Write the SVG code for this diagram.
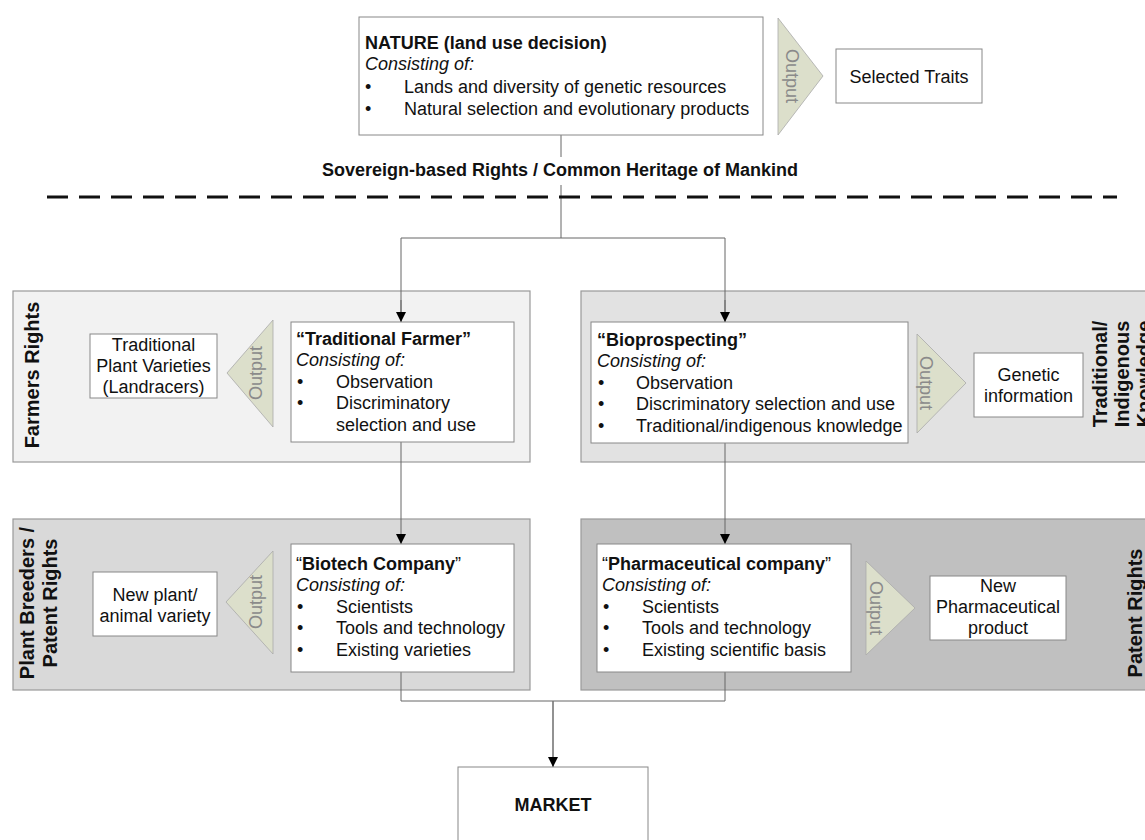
<svg xmlns="http://www.w3.org/2000/svg" width="1145" height="840" viewBox="0 0 1145 840">
<defs>
<style>
text{font-family:"Liberation Sans",Arial,sans-serif;fill:#111}
.t{font-size:18px}
.b{font-weight:bold}
.i{font-style:italic}
.c{text-anchor:middle}
.box{fill:#fff;stroke:#888;stroke-width:1}
.tri{fill:#dcdfcb;stroke:#aaa;stroke-width:0.8}
.out{font-size:18px;fill:#8a8a8a;text-anchor:middle}
.lab{font-size:20px;font-weight:bold;text-anchor:middle}
.con{fill:none;stroke:#666;stroke-width:1}
.panel{stroke:#999;stroke-width:1.2}
</style>
<marker id="ah" markerWidth="11" markerHeight="11" refX="10" refY="5" orient="auto" markerUnits="userSpaceOnUse">
<path d="M0,0 L10,5 L0,10 Z" fill="#000"/>
</marker>
</defs>
<rect width="1145" height="840" fill="#fff"/>

<g id="panels">
<rect id="panel-farmers" class="panel" x="13" y="291" width="517" height="171" fill="#f2f2f2"/>
<rect id="panel-tik" class="panel" x="581" y="291" width="580" height="171" fill="#e2e2e2"/>
<rect id="panel-pbr" class="panel" x="13" y="519" width="517" height="171" fill="#d9d9d9"/>
<rect id="panel-patent" class="panel" x="581" y="519" width="580" height="171" fill="#c0c0c0"/>
</g>

<g id="connectors">
<line class="con" x1="561" y1="135" x2="561" y2="157"/>
<line class="con" x1="561" y1="185" x2="561" y2="238"/>
<polyline class="con" points="401,322 401,238 725,238 725,322"/>
<line class="con" x1="401" y1="300" x2="401" y2="322" marker-end="url(#ah)"/>
<line class="con" x1="725" y1="300" x2="725" y2="322" marker-end="url(#ah)"/>
<line class="con" x1="401" y1="442" x2="401" y2="544" marker-end="url(#ah)"/>
<line class="con" x1="725" y1="443" x2="725" y2="544" marker-end="url(#ah)"/>
<polyline class="con" points="401,672 401,701 725,701 725,672"/>
<line x1="553" y1="701" x2="553" y2="767" stroke="#777" stroke-width="1.6" marker-end="url(#ah)"/>
<line x1="47" y1="197" x2="1117" y2="197" stroke="#111" stroke-width="3" stroke-dasharray="21,11"/>
</g>

<g id="nature">
<rect class="box" x="359" y="17" width="404" height="118"/>
<text class="t b" x="365" y="49">NATURE (land use decision)</text>
<text class="t i" x="365" y="70">Consisting of:</text>
<text class="t" x="365" y="93">•</text>
<text class="t" x="404" y="93">Lands and diversity of genetic resources</text>
<text class="t" x="365" y="115">•</text>
<text class="t" x="404" y="115">Natural selection and evolutionary products</text>
</g>
<g id="out-nature">
<polygon class="tri" points="778,18 823,76 778,135"/>
<text class="out" transform="translate(786,76) rotate(90)">Output</text>
</g>
<g id="selected-traits">
<rect class="box" x="836" y="49" width="146" height="54"/>
<text class="t c" x="909" y="83">Selected Traits</text>
</g>

<g id="sovereign">
<text class="b c" x="560" y="176" font-size="18">Sovereign-based Rights / Common Heritage of Mankind</text>
</g>

<g id="farmers-label">
<text class="lab" transform="translate(39,375) rotate(-90)">Farmers Rights</text>
</g>
<g id="traditional-varieties">
<rect class="box" x="90" y="334" width="127" height="64"/>
<text class="t c" x="153.5" y="351">Traditional</text>
<text class="t c" x="153.5" y="372">Plant Varieties</text>
<text class="t c" x="153.5" y="393">(Landracers)</text>
</g>
<g id="out-farmer">
<polygon class="tri" points="273,320 227,373 273,427"/>
<text class="out" transform="translate(262,373) rotate(-90)">Output</text>
</g>
<g id="traditional-farmer">
<rect class="box" x="291" y="322" width="223" height="120"/>
<text class="t b" x="296" y="345">“Traditional Farmer”</text>
<text class="t i" x="296" y="366">Consisting of:</text>
<text class="t" x="297" y="388">•</text>
<text class="t" x="336" y="388">Observation</text>
<text class="t" x="297" y="409">•</text>
<text class="t" x="336" y="409">Discriminatory</text>
<text class="t" x="336" y="431">selection and use</text>
</g>

<g id="bioprospecting">
<rect class="box" x="591" y="322" width="317" height="121"/>
<text class="t b" x="597" y="346">“Bioprospecting”</text>
<text class="t i" x="597" y="367">Consisting of:</text>
<text class="t" x="598" y="389">•</text>
<text class="t" x="636" y="389">Observation</text>
<text class="t" x="598" y="410">•</text>
<text class="t" x="636" y="410">Discriminatory selection and use</text>
<text class="t" x="598" y="432">•</text>
<text class="t" x="636" y="432">Traditional/indigenous knowledge</text>
</g>
<g id="out-bio">
<polygon class="tri" points="917,334 966,383 917,433"/>
<text class="out" transform="translate(920,383) rotate(90)">Output</text>
</g>
<g id="genetic-information">
<rect class="box" x="974" y="353" width="109" height="64"/>
<text class="t c" x="1028.5" y="381">Genetic</text>
<text class="t c" x="1028.5" y="402">information</text>
</g>
<g id="tik-label">
<text class="lab" transform="translate(1107,374) rotate(-90)">Traditional/</text>
<text class="lab" transform="translate(1129,374) rotate(-90)">Indigenous</text>
<text class="lab" transform="translate(1151,374) rotate(-90)">Knowledge</text>
</g>

<g id="pbr-label">
<text class="lab" transform="translate(34,603) rotate(-90)">Plant Breeders /</text>
<text class="lab" transform="translate(57,603) rotate(-90)">Patent Rights</text>
</g>
<g id="new-variety">
<rect class="box" x="93" y="572" width="124" height="64"/>
<text class="t c" x="155" y="601">New plant/</text>
<text class="t c" x="155" y="622">animal variety</text>
</g>
<g id="out-biotech">
<polygon class="tri" points="273,551 226,602 273,654"/>
<text class="out" transform="translate(262,602) rotate(-90)">Output</text>
</g>
<g id="biotech">
<rect class="box" x="291" y="544" width="223" height="128"/>
<text class="t" x="296" y="570">“<tspan class="b">Biotech Company</tspan>”</text>
<text class="t i" x="296" y="591">Consisting of:</text>
<text class="t" x="297" y="613">•</text>
<text class="t" x="336" y="613">Scientists</text>
<text class="t" x="297" y="634">•</text>
<text class="t" x="336" y="634">Tools and technology</text>
<text class="t" x="297" y="656">•</text>
<text class="t" x="336" y="656">Existing varieties</text>
</g>

<g id="pharma">
<rect class="box" x="597" y="544" width="254" height="128"/>
<text class="t" x="602" y="570">“<tspan class="b">Pharmaceutical company</tspan>”</text>
<text class="t i" x="602" y="591">Consisting of:</text>
<text class="t" x="603" y="613">•</text>
<text class="t" x="642" y="613">Scientists</text>
<text class="t" x="603" y="634">•</text>
<text class="t" x="642" y="634">Tools and technology</text>
<text class="t" x="603" y="656">•</text>
<text class="t" x="642" y="656">Existing scientific basis</text>
</g>
<g id="out-pharma">
<polygon class="tri" points="866,561 915,608 866,655"/>
<text class="out" transform="translate(870,608) rotate(90)">Output</text>
</g>
<g id="new-pharma">
<rect class="box" x="930" y="576" width="136" height="64"/>
<text class="t c" x="998" y="592">New</text>
<text class="t c" x="998" y="613">Pharmaceutical</text>
<text class="t c" x="998" y="634">product</text>
</g>
<g id="patent-label">
<text class="lab" transform="translate(1142,613) rotate(-90)">Patent Rights</text>
</g>

<g id="market">
<rect class="box" x="458" y="767" width="190" height="90"/>
<text class="b c" x="553" y="811" font-size="18">MARKET</text>
</g>
</svg>
